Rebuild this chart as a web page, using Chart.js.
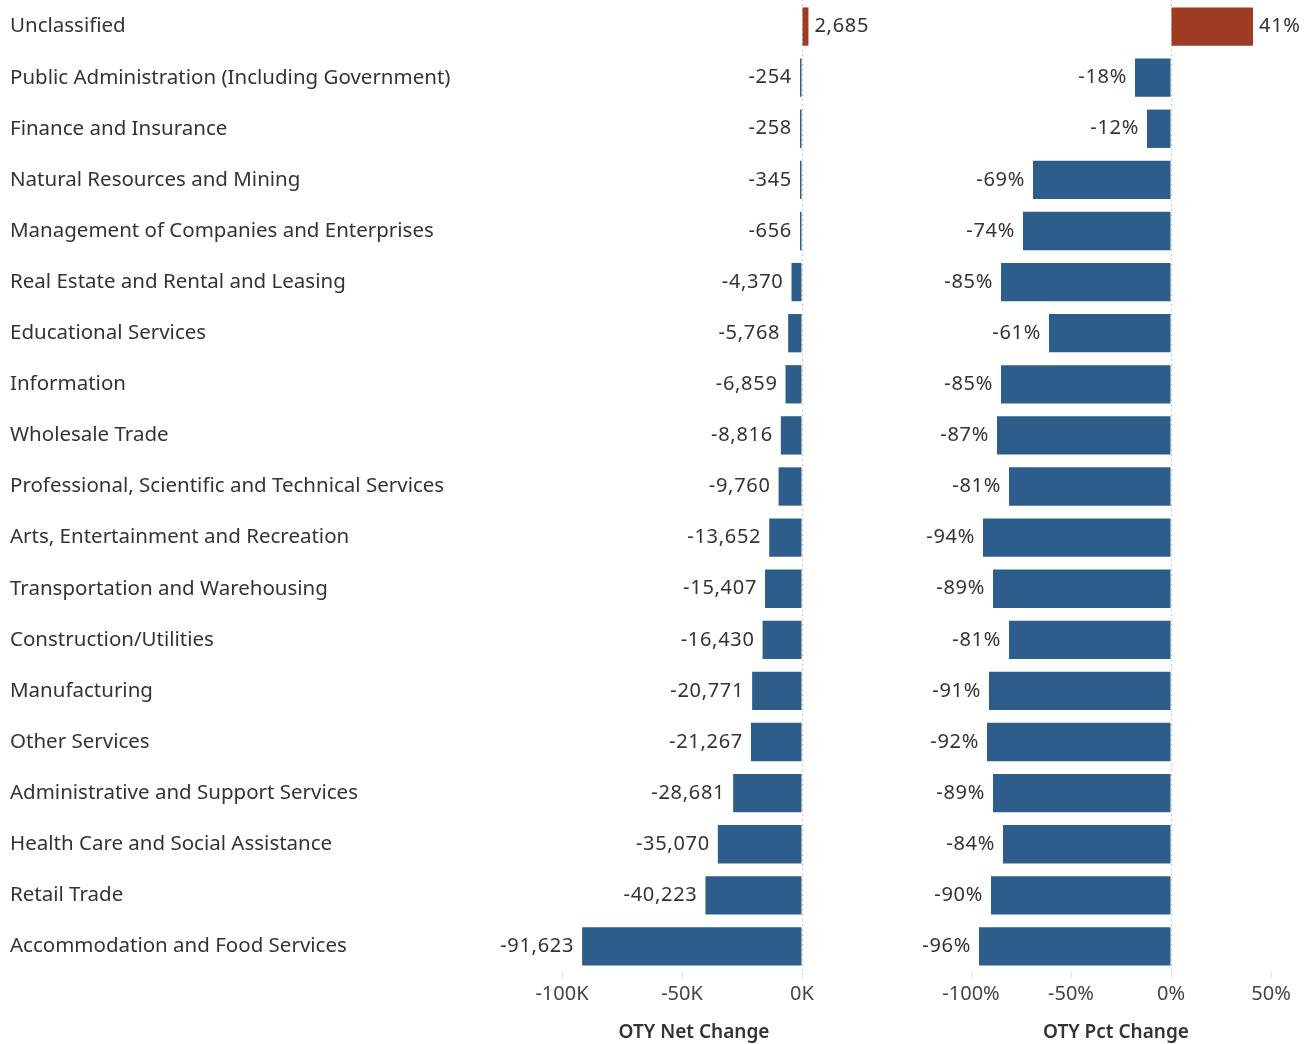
<!DOCTYPE html>
<html lang="en">
<head>
    <meta charset="UTF-8">
    <title>OTY Change by Industry</title>
    <script src="https://cdn.jsdelivr.net/npm/chart.js"></script>
    <style>
        body {
            margin: 0;
            background-color: #ffffff;
        }
        #wrap {
            position: relative;
            width: 1310px;
            height: 1044px;
        }
        #netWrap {
            position: absolute;
            left: 0;
            top: 0;
            width: 900px;
            height: 1044px;
        }
        #pctWrap {
            position: absolute;
            left: 900px;
            top: 0;
            width: 410px;
            height: 1044px;
        }
    </style>
</head>
<body>
<div id="wrap">
    <div id="netWrap"><canvas id="netChart"></canvas></div>
    <div id="pctWrap"><canvas id="pctChart"></canvas></div>
</div>

<script>
    const industries = [
        'Unclassified',
        'Public Administration (Including Government)',
        'Finance and Insurance',
        'Natural Resources and Mining',
        'Management of Companies and Enterprises',
        'Real Estate and Rental and Leasing',
        'Educational Services',
        'Information',
        'Wholesale Trade',
        'Professional, Scientific and Technical Services',
        'Arts, Entertainment and Recreation',
        'Transportation and Warehousing',
        'Construction/Utilities',
        'Manufacturing',
        'Other Services',
        'Administrative and Support Services',
        'Health Care and Social Assistance',
        'Retail Trade',
        'Accommodation and Food Services'
    ];
    const netChange = [2685, -254, -258, -345, -656, -4370, -5768, -6859, -8816, -9760,
        -13652, -15407, -16430, -20771, -21267, -28681, -35070, -40223, -91623];
    const pctChange = [41, -18, -12, -69, -74, -85, -61, -85, -87, -81,
        -94, -89, -81, -91, -92, -89, -84, -90, -96];
    const netTicks = [-100000, -50000, 0];
    const pctTicks = [-100, -50, 0, 50];

    const BLUE = '#2d5e8b';
    const RED = '#9d3b23';
    const FONT = 'Noto Sans';
    const TEXT = '#333333';

    const barColors = vals => vals.map(v => v >= 0 ? RED : BLUE);

    // value labels next to each bar + dotted zero line
    const barLabels = {
        id: 'barLabels',
        beforeDatasetsDraw(chart) {
            const { ctx, chartArea, scales } = chart;
            const x0 = Math.round(scales.x.getPixelForValue(0)) + 0.5;
            ctx.save();
            ctx.strokeStyle = '#c8c8c8';
            ctx.lineWidth = 1;
            ctx.setLineDash([2, 3]);
            ctx.beginPath();
            ctx.moveTo(x0, chartArea.top - 2);
            ctx.lineTo(x0, chartArea.bottom + 2);
            ctx.stroke();
            ctx.restore();
        },
        afterDatasetsDraw(chart, args, opts) {
            const { ctx } = chart;
            const meta = chart.getDatasetMeta(0);
            const data = chart.data.datasets[0].data;
            ctx.save();
            ctx.font = '20px "' + FONT + '"';
            ctx.letterSpacing = '0.7px';
            ctx.fillStyle = TEXT;
            ctx.textBaseline = 'middle';
            meta.data.forEach((bar, i) => {
                const v = data[i];
                const txt = opts.format(v);
                if (v >= 0) {
                    ctx.textAlign = 'left';
                    ctx.fillText(txt, bar.x + 6, bar.y);
                } else {
                    ctx.textAlign = 'right';
                    ctx.fillText(txt, bar.x - 8, bar.y);
                }
            });
            ctx.restore();
        }
    };

    function makeChart(id, values, ticks, min, max, title, fmtTick, fmtLabel, showCats, padding) {
        const ctx = document.getElementById(id).getContext('2d');
        return new Chart(ctx, {
            type: 'bar',
            data: {
                labels: industries,
                datasets: [{
                    data: values,
                    backgroundColor: barColors(values),
                    barPercentage: 0.75,
                    categoryPercentage: 1.0,
                    minBarLength: 2
                }]
            },
            options: {
                indexAxis: 'y',
                responsive: true,
                maintainAspectRatio: false,
                animation: false,
                layout: { padding: padding },
                scales: {
                    x: {
                        min: min,
                        max: max,
                        afterBuildTicks: scale => {
                            scale.ticks = ticks.map(v => ({ value: v }));
                        },
                        afterFit: scale => { scale.height = 72; },
                        grid: {
                            drawOnChartArea: false,
                            drawTicks: true,
                            tickLength: 6,
                            tickColor: '#e0e0e0'
                        },
                        border: { display: false },
                        ticks: {
                            padding: 4,
                            color: '#444',
                            font: { family: FONT, size: 20 },
                            callback: v => fmtTick(v)
                        },
                        title: {
                            display: true,
                            text: title,
                            color: TEXT,
                            font: { family: FONT, size: 19, weight: '600' },
                            padding: { top: 0, bottom: 0 }
                        }
                    },
                    y: {
                        display: showCats,
                        afterFit: scale => {
                            scale.paddingTop = 0;
                            scale.paddingBottom = 0;
                            if (showCats) scale.width = 504;
                        },
                        grid: { display: false },
                        border: { display: false },
                        ticks: {
                            crossAlign: 'far',
                            color: TEXT,
                            font: { family: FONT, size: 20.5 },
                            autoSkip: false
                        }
                    }
                },
                plugins: {
                    legend: { display: false },
                    tooltip: { enabled: false },
                    barLabels: { format: fmtLabel }
                }
            },
            plugins: [barLabels]
        });
    }

    makeChart('netChart', netChange, netTicks, -120000, 30000, 'OTY Net Change',
        v => (v / 1000) + 'K',
        v => v.toLocaleString('en-US'),
        true,
        { left: 10, right: 26, top: 1, bottom: 0 });

    makeChart('pctChart', pctChange, pctTicks, -120, 65, 'OTY Pct Change',
        v => v + '%',
        v => v + '%',
        false,
        { left: 31, right: 9, top: 1, bottom: 0 });
</script>
</body>
</html>
